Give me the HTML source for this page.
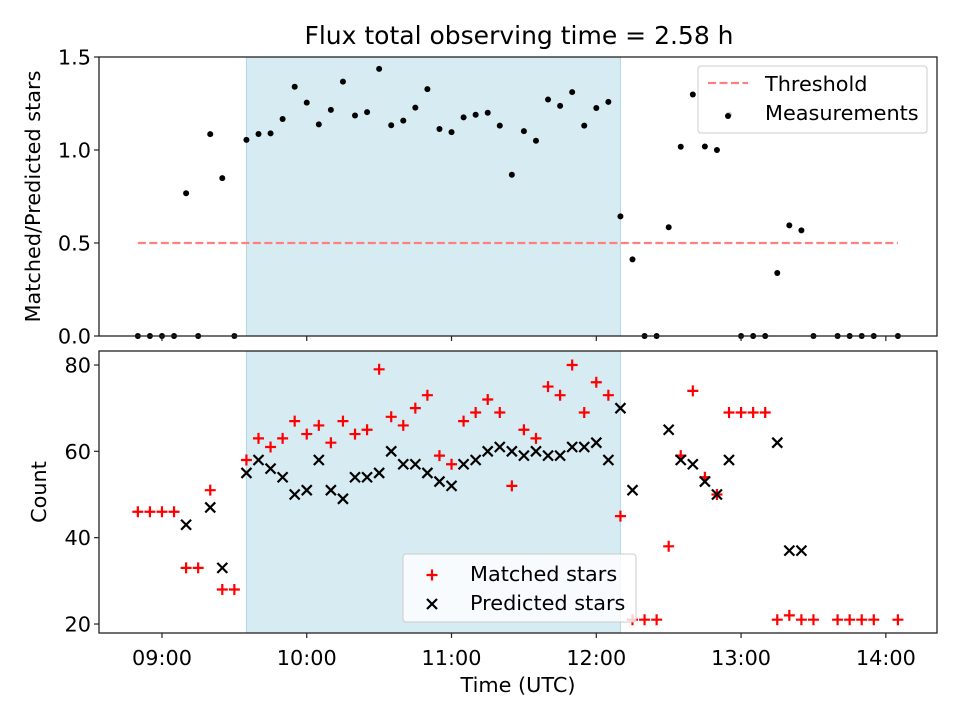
<!DOCTYPE html>
<html><head><meta charset="utf-8"><style>
body{margin:0;background:#fff}
svg{display:block;font-family:"DejaVu Sans","Liberation Sans",sans-serif}
</style></head><body>
<svg id="chart" width="960" height="720" viewBox="0 0 960 720" xmlns="http://www.w3.org/2000/svg"></svg>
<script>
// minutes after 09:00 UTC
const times = [-10,-5,0,5,10,15,20,25,30,35,40,45,50,55,60,65,70,75,80,85,90,95,100,105,110,115,120,125,130,135,140,145,150,155,160,165,170,175,180,185,190,195,200,205,210,215,220,225,230,235,240,245,250,255,260,265,270,280,285,290,295,305];
const matched = [46,46,46,46,33,33,51,28,28,58,63,61,63,67,64,66,62,67,64,65,79,68,66,70,73,59,57,67,69,72,69,52,65,63,75,73,80,69,76,73,45,21,21,21,38,59,74,54,50,69,69,69,69,21,22,21,21,21,21,21,21,21];
const predicted = [null,null,null,null,43,null,47,33,null,55,58,56,54,50,51,58,51,49,54,54,55,60,57,57,55,53,52,57,58,60,61,60,59,60,59,59,61,61,62,58,70,51,null,null,65,58,57,53,50,58,null,null,null,62,37,37,null,null,null,null,null,null];
const threshold = 0.5;
const shadeStart = 35, shadeEnd = 190;
const xTickLabels = ["09:00","10:00","11:00","12:00","13:00","14:00"];
const xTickMinutes = [0,60,120,180,240,300];
const topTicks = [0.0,0.5,1.0,1.5];
const bottomTicks = [20,40,60,80];

const NS="http://www.w3.org/2000/svg";
const svg=document.getElementById('chart');
function el(tag,attrs,parent){const e=document.createElementNS(NS,tag);for(const k in attrs)e.setAttribute(k,attrs[k]);(parent||svg).appendChild(e);return e;}
const L=99,R=937;
const xMin=-26.1,xMax=321.2;
const X=m=>L+(m-xMin)/(xMax-xMin)*(R-L);
const T0=57,T1=336;
const YT=v=>T1-(v-0)/(1.5-0)*(T1-T0);
const B0=351,B1=633;
const bMin=17.92,bMax=83.24;
const YB=v=>B1-(v-bMin)/(bMax-bMin)*(B1-B0);
const FS=20.8;

// title
let t=el('text',{x:519,y:44,'text-anchor':'middle','font-size':25});t.textContent='Flux total observing time = 2.58 h';


// shading
let s1=el('rect',{x:X(shadeStart),y:T0,width:X(shadeEnd)-X(shadeStart),height:T1-T0,fill:'#add8e6','fill-opacity':0.5,stroke:'#add8e6'});

let s2=el('rect',{x:X(shadeStart),y:B0,width:X(shadeEnd)-X(shadeStart),height:B1-B0,fill:'#add8e6','fill-opacity':0.5,stroke:'#add8e6'});


// threshold
let th=el('line',{x1:X(times[0]),x2:X(times[times.length-1]),y1:YT(threshold),y2:YT(threshold),stroke:'#ff7f7f','stroke-width':2.2,'stroke-dasharray':'8,3.5'});


// measurements
const gTop=el('g',{});

times.forEach((m,i)=>{
  const r=predicted[i]?matched[i]/predicted[i]:0;
  const c=el('circle',{cx:X(m),cy:YT(r),r:3,fill:'#000'},gTop);
  
  
});

// matched / predicted
const gM=el('g',{}),gP=el('g',{});


function plus(x,y,g,col){return el('path',{d:`M${x-5.5},${y}H${x+5.5}M${x},${y-5.5}V${y+5.5}`,stroke:col,'stroke-width':2.2,fill:'none'},g);}
function cross(x,y,g,col){return el('path',{d:`M${x-5},${y-5}L${x+5},${y+5}M${x-5},${y+5}L${x+5},${y-5}`,stroke:col,'stroke-width':2.2,fill:'none'},g);}
times.forEach((m,i)=>{
  const p=plus(X(m),YB(matched[i]),gM,'#ff0000');
  
  
});
times.forEach((m,i)=>{
  if(predicted[i]==null)return;
  const c=cross(X(m),YB(predicted[i]),gP,'#000');
  
  
});

// axes frames
let f1=el('rect',{x:L,y:T0,width:R-L,height:T1-T0,fill:'none',stroke:'#222','stroke-width':1.3});

let f2=el('rect',{x:L,y:B0,width:R-L,height:B1-B0,fill:'none',stroke:'#222','stroke-width':1.3});


// x ticks
xTickMinutes.forEach((m,i)=>{
  const x=X(m);
  el('line',{x1:x,x2:x,y1:T1,y2:T1+5,stroke:'#222','stroke-width':1.2});
  el('line',{x1:x,x2:x,y1:B1,y2:B1+5,stroke:'#222','stroke-width':1.2});
  const tx=el('text',{x:x,y:B1+32,'text-anchor':'middle','font-size':FS});tx.textContent=xTickLabels[i];
  
});
topTicks.forEach(v=>{
  const y=YT(v);
  el('line',{x1:L-5,x2:L,y1:y,y2:y,stroke:'#222','stroke-width':1.2});
  const tx=el('text',{x:L-8,y:y+7.5,'text-anchor':'end','font-size':FS});tx.textContent=v.toFixed(1);
  
});
bottomTicks.forEach(v=>{
  const y=YB(v);
  el('line',{x1:L-5,x2:L,y1:y,y2:y,stroke:'#222','stroke-width':1.2});
  const tx=el('text',{x:L-8,y:y+7.5,'text-anchor':'end','font-size':FS});tx.textContent=v;
  
});

// axis titles
let yt1=el('text',{x:40,y:(T0+T1)/2,'text-anchor':'middle','font-size':FS,transform:`rotate(-90 40 ${(T0+T1)/2})`});yt1.textContent='Matched/Predicted stars';

let yt2=el('text',{x:46,y:(B0+B1)/2,'text-anchor':'middle','font-size':FS,transform:`rotate(-90 46 ${(B0+B1)/2})`});yt2.textContent='Count';

let xt=el('text',{x:518,y:692,'text-anchor':'middle','font-size':FS});xt.textContent='Time (UTC)';


// top legend
const lg1=el('g',{});

el('rect',{x:698,y:66,width:229,height:67,rx:3,fill:'#fff','fill-opacity':0.8,stroke:'#ccc'},lg1);
el('line',{x1:708,x2:748,y1:83,y2:83,stroke:'#ff7f7f','stroke-width':2.2,'stroke-dasharray':'8,3.5'},lg1);
let lt1=el('text',{x:765,y:91,'font-size':FS},lg1);lt1.textContent='Threshold';

el('circle',{cx:728,cy:116,r:3,fill:'#000'},lg1);
let lt2=el('text',{x:765,y:120,'font-size':FS},lg1);lt2.textContent='Measurements';


// bottom legend
const lg2=el('g',{});

el('rect',{x:403,y:554,width:233,height:68,rx:3,fill:'#fff','fill-opacity':0.8,stroke:'#ccc'},lg2);
plus(432,575,lg2,'#ff0000');
let lt3=el('text',{x:470,y:581,'font-size':FS},lg2);lt3.textContent='Matched stars';

cross(432,604,lg2,'#000');
let lt4=el('text',{x:470,y:610,'font-size':FS},lg2);lt4.textContent='Predicted stars';

</script>
</body></html>
